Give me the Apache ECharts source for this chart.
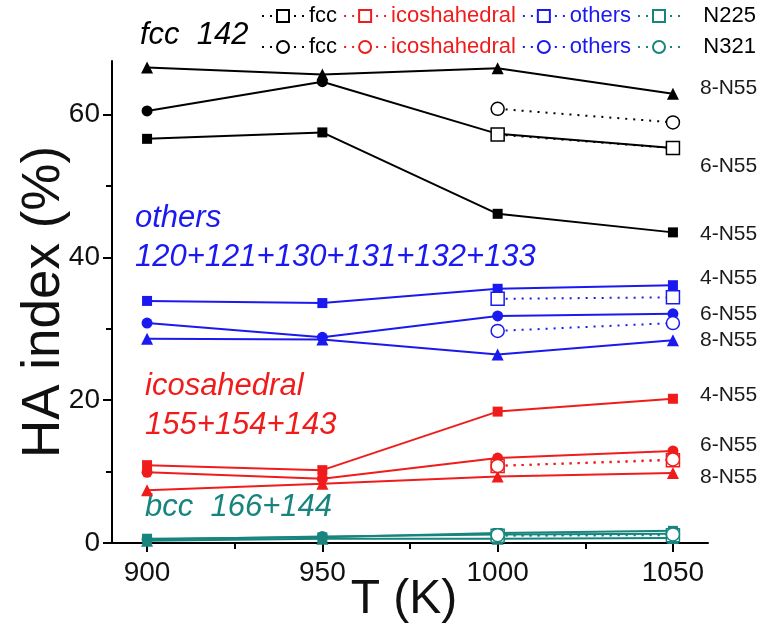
<!DOCTYPE html>
<html>
<head>
<meta charset="utf-8">
<script src="https://cdn.jsdelivr.net/npm/echarts@6/dist/echarts.min.js"></script>
<style>
  html, body { margin: 0; padding: 0; background: #fff; }
  #chart { width: 765px; height: 633px; }
</style>
</head>
<body>
<div id="chart"></div>
<script>
// Temperatures (K)
const temps = [900, 950, 1000, 1050];
const tempsLate = [1000, 1050];
const xTicks = [900, 950, 1000, 1050];
const xMinorTicks = [925, 975, 1025];
const yTicks = [0, 20, 40, 60];
const yMinorTicks = [10, 30, 50];

// HA index (%) — fcc 142
const fcc4 = [56.6, 57.5, 46.1, 43.5];
const fcc6 = [60.5, 64.6, 57.3, 55.3];
const fcc8 = [66.6, 65.6, 66.5, 62.9];
const fccN225 = [57.2, 55.3];
const fccN321 = [60.8, 58.9];

// others 120+121+130+131+132+133
const oth4 = [33.9, 33.6, 35.6, 36.1];
const oth6 = [30.8, 28.8, 31.8, 32.1];
const oth8 = [28.6, 28.5, 26.4, 28.4];
const othN225 = [34.2, 34.4];
const othN321 = [29.7, 30.8];

// icosahedral 155+154+143
const ico4 = [10.9, 10.2, 18.4, 20.2];
const ico6 = [9.9, 9.0, 11.9, 12.9];
const ico8 = [7.4, 8.3, 9.3, 9.8];
const icoN225 = [10.8, 11.6];
const icoN321 = [10.8, 11.7];

// bcc 166+144
const bcc4 = [0.6, 0.8, 1.4, 1.7];
const bcc6 = [0.5, 0.9, 1.2, 1.3];
const bcc8 = [0.3, 0.6, 0.6, 0.7];
const bccN225 = [1.0, 1.1];
const bccN321 = [1.1, 1.2];

const BLACK = '#000000';
const RED = '#f01c1c';
const BLUE = '#1a1af0';
const TEAL = '#17857e';
const FONT = 'Liberation Sans, Arial, sans-serif';

const pairs = (xs, ys) => ys.map((v, i) => [xs[i], v]);

function solidSeries(name, ys, color, symbol, size) {
  return {
    type: 'line', name, data: pairs(temps, ys),
    symbol, symbolSize: size,
    itemStyle: { color },
    lineStyle: { color, width: 2 },
    z: 2, animation: false, silent: true
  };
}

function openSeries(name, ys, color, symbol) {
  return {
    type: 'line', name, data: pairs(tempsLate, ys),
    symbol, symbolSize: 13,
    itemStyle: { color: '#ffffff', borderColor: color, borderWidth: 1.5 },
    lineStyle: { color, width: 2, type: [2, 6] },
    z: 3, animation: false, silent: true
  };
}

const series = [
  solidSeries('fcc 4-N55', fcc4, BLACK, 'rect', 10),
  solidSeries('fcc 6-N55', fcc6, BLACK, 'circle', 11),
  solidSeries('fcc 8-N55', fcc8, BLACK, 'triangle', 12),
  solidSeries('others 4-N55', oth4, BLUE, 'rect', 10),
  solidSeries('others 6-N55', oth6, BLUE, 'circle', 11),
  solidSeries('others 8-N55', oth8, BLUE, 'triangle', 12),
  solidSeries('ico 4-N55', ico4, RED, 'rect', 10),
  solidSeries('ico 6-N55', ico6, RED, 'circle', 11),
  solidSeries('ico 8-N55', ico8, RED, 'triangle', 12),
  solidSeries('bcc 4-N55', bcc4, TEAL, 'rect', 10),
  solidSeries('bcc 6-N55', bcc6, TEAL, 'circle', 11),
  solidSeries('bcc 8-N55', bcc8, TEAL, 'triangle', 12),
  openSeries('fcc N225', fccN225, BLACK, 'rect'),
  openSeries('icoshahedral N225', icoN225, RED, 'rect'),
  openSeries('others N225', othN225, BLUE, 'rect'),
  openSeries('N225', bccN225, TEAL, 'rect'),
  openSeries('fcc N321', fccN321, BLACK, 'circle'),
  openSeries('icoshahedral N321', icoN321, RED, 'circle'),
  openSeries('others N321', othN321, BLUE, 'circle'),
  openSeries('N321', bccN321, TEAL, 'circle')
];

function legendRow(top, names, colors) {
  return {
    top, left: 256, orient: 'horizontal',
    itemWidth: 42, itemHeight: 15, itemGap: 6,
    selectedMode: false,
    data: names.map((n, i) => ({ name: n, textStyle: { color: colors[i] } })),
    formatter: n => (n.indexOf(' ') > 0 ? n.split(' ')[0] : '   ' + n),
    textStyle: { fontSize: 22, fontFamily: FONT, padding: [0, 0, 0, 0] }
  };
}

const labelColors = [BLACK, RED, BLUE, BLACK];

// Right-hand series labels and in-plot family captions
const sideLabels = [
  ['8-N55', 89], ['6-N55', 167], ['4-N55', 235],
  ['4-N55', 279], ['6-N55', 315], ['8-N55', 341],
  ['4-N55', 396], ['6-N55', 446], ['8-N55', 478]
];
const captions = [
  ['fcc  142', 140, 35, BLACK],
  ['others', 135, 218, BLUE],
  ['120+121+130+131+132+133', 135, 257, BLUE],
  ['icosahedral', 145, 386, RED],
  ['155+154+143', 145, 425, RED],
  ['bcc  166+144', 145, 507, TEAL]
];

const graphics = [];
sideLabels.forEach(([t, y]) => graphics.push({
  type: 'text', left: 700, top: y - 11,
  style: { text: t, fill: '#1a1a1a', font: '21px ' + FONT }
}));
captions.forEach(([t, x, y, c]) => graphics.push({
  type: 'text', left: x, top: y - 15,
  style: { text: t, fill: c, font: 'italic 31px ' + FONT }
}));

const plain = v => String(v);

const chart = echarts.init(document.getElementById('chart'), null, { renderer: 'canvas' });
chart.setOption({
  backgroundColor: '#ffffff',
  animation: false,
  grid: { left: 112, right: 57, top: 61, bottom: 90, containLabel: false, outerBoundsMode: 'none' },
  legend: [
    legendRow(0, ['fcc N225', 'icoshahedral N225', 'others N225', 'N225'], labelColors),
    legendRow(31, ['fcc N321', 'icoshahedral N321', 'others N321', 'N321'], labelColors)
  ],
  xAxis: [
    {
      type: 'value', min: 890, max: 1060, position: 'bottom',
      name: 'T (K)', nameLocation: 'middle', nameGap: 33, nameMoveOverlap: false,
      nameTextStyle: { fontSize: 48, fontFamily: FONT, color: '#111', padding: [0, 12, 0, 0] },
      axisLine: { show: true, onZero: false, lineStyle: { color: '#000', width: 2 } },
      axisTick: { show: true, length: 9, customValues: xTicks, lineStyle: { color: '#000', width: 2 } },
      axisLabel: { customValues: xTicks, formatter: plain, fontSize: 28, fontFamily: FONT, color: '#111', margin: 16 },
      splitLine: { show: false }
    },
    {
      type: 'value', min: 890, max: 1060, position: 'bottom',
      axisLine: { show: false },
      axisTick: { show: true, length: 6, customValues: xMinorTicks, lineStyle: { color: '#000', width: 2 } },
      axisLabel: { show: false },
      splitLine: { show: false }
    }
  ],
  yAxis: [
    {
      type: 'value', min: 0, max: 67.5, position: 'left',
      name: 'HA index (%)', nameLocation: 'middle', nameGap: 41, nameMoveOverlap: false,
      nameTextStyle: { fontSize: 53, fontFamily: FONT, color: '#111' },
      axisLine: { show: true, onZero: false, lineStyle: { color: '#000', width: 2 } },
      axisTick: { show: true, length: 9, customValues: yTicks, lineStyle: { color: '#000', width: 2 } },
      axisLabel: { customValues: yTicks, formatter: plain, fontSize: 28, fontFamily: FONT, color: '#111', margin: 12 },
      splitLine: { show: false }
    },
    {
      type: 'value', min: 0, max: 67.5, position: 'left',
      axisLine: { show: false },
      axisTick: { show: true, length: 6, customValues: yMinorTicks, lineStyle: { color: '#000', width: 2 } },
      axisLabel: { show: false },
      splitLine: { show: false }
    }
  ],
  series,
  graphic: graphics
});
</script>
</body>
</html>
